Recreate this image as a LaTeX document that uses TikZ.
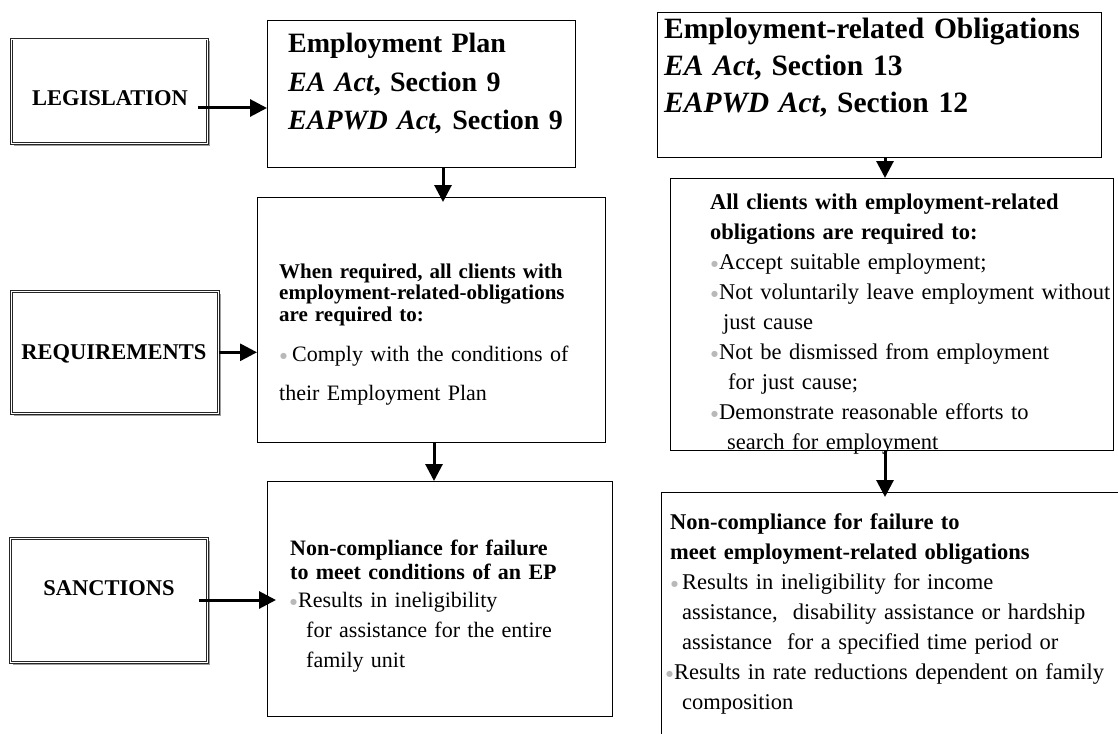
\documentclass[tikz,border=0pt]{standalone}
\usepackage{fontspec}
\setmainfont{Liberation Serif}
\newfontfamily\djv{DejaVu Sans}
\usetikzlibrary{arrows.meta,shadows,calc}
\definecolor{bulgray}{RGB}{185,185,185}
\newcommand{\bul}{\raisebox{2.5pt}{\color{bulgray}\djv\fontsize{8}{8}\selectfont ●}}
\begin{document}
\begin{tikzpicture}[x=1pt,y=-1pt,
  box/.style={draw=black,line width=0.9pt,anchor=north west,inner sep=0pt,fill=white},
  lab/.style={draw=black!85,line width=0.6pt,double=white,double distance=1.2pt,fill=white,
    anchor=north west,inner sep=0pt,
    drop shadow={shadow xshift=2.2pt,shadow yshift=-2.2pt,fill=gray!75,opacity=1}},
  labtxt/.style={font=\fontsize{22.5}{26}\selectfont\bfseries,inner sep=0pt},
  txt/.style={anchor=base west,inner sep=0pt,align=left,text width=#1},
  arr/.style={line width=3pt,-{Triangle[length=17pt,width=17pt]}}
]
\useasboundingbox (0,0) rectangle (1118,733);
\clip (0,0) rectangle (1118,733);
\fill[white] (0,0) rectangle (1118,733);

% ---- left label boxes
\node[lab,minimum width=196pt,minimum height=104pt] (leg) at (11,39) {};
\node[labtxt] (legt) at (110,98) {LEGISLATION};
\node[lab,minimum width=207pt,minimum height=122pt] (reql) at (11,291) {};
\node[labtxt] (reqlt) at (114,354) {REQUIREMENTS};
\node[lab,minimum width=197pt,minimum height=124pt] (sanl) at (10,538) {};
\node[labtxt] (sanlt) at (109,588) {SANCTIONS};

% ---- middle column
\node[box,minimum width=308pt,minimum height=147pt] (ep) at (267,20) {};
\node[txt=300pt,font=\fontsize{28}{38.5}\selectfont\bfseries] (ept) at (288,53)
  {Employment Plan\\\textit{EA Act}, Section 9\\\textit{EAPWD Act,} Section 9};

\node[box,minimum width=348pt,minimum height=245pt] (req) at (257,197) {};
\node[txt=330pt,font=\fontsize{21}{21.5}\selectfont\bfseries] (reqh) at (279,278)
  {When required, all clients with\\employment-related-obligations\\are required to:};
\node[txt=330pt,font=\fontsize{22}{39}\selectfont] (reqb) at (279,361)
  {\hspace*{1pt}\bul\hspace{5pt}Comply with the conditions of\\their Employment Plan};

\node[box,minimum width=345pt,minimum height=235pt] (san) at (267,481) {};
\node[txt=330pt,font=\fontsize{22}{24}\selectfont\bfseries] (sanh) at (290,555)
  {Non-compliance for failure\\to meet conditions of an EP};
\node[txt=330pt,font=\fontsize{22}{30}\selectfont] (sanb) at (290,607)
  {\bul\hspace{1pt}Results in ineligibility\\\hspace*{16pt}for assistance for the entire\\\hspace*{16pt}family unit};

% ---- right column
\node[box,minimum width=444pt,minimum height=145pt] (ero) at (657,12) {};
\node[txt=440pt,font=\fontsize{29.5}{37}\selectfont\bfseries] (erot) at (664,39)
  {Employment-related Obligations\\\textit{EA Act}, Section 13\\\textit{EAPWD Act}, Section 12};

\node[box,minimum width=443pt,minimum height=272pt] (all) at (670,178) {};
\node[txt=420pt,font=\fontsize{22.5}{30}\selectfont\bfseries] (allh) at (710,209)
  {All clients with employment-related\\obligations are required to:};
\node[txt=420pt,font=\fontsize{22.5}{30}\selectfont] (allb) at (710,269)
  {\hspace*{1pt}\bul\hspace{1pt}Accept suitable employment;\\
   \hspace*{1pt}\bul\hspace{1pt}Not voluntarily leave employment without\\
   \hspace*{13pt}just cause\\
   \hspace*{1pt}\bul\hspace{1pt}Not be dismissed from employment\\
   \hspace*{18pt}for just cause;\\
   \hspace*{1pt}\bul\hspace{1pt}Demonstrate reasonable efforts to\\
   \hspace*{17pt}search for employment};

\node[box,minimum width=470pt,minimum height=270pt] (nc) at (661,492) {};
\node[txt=440pt,font=\fontsize{22.5}{30}\selectfont\bfseries] (nch) at (670,529)
  {Non-compliance for failure to\\meet employment-related obligations};
\node[txt=440pt,font=\fontsize{22.5}{30}\selectfont] (ncb) at (670,589)
  {\hspace*{1pt}\bul\hspace{4pt}Results in ineligibility for income\\
   \hspace*{12pt}assistance,\ \ disability assistance or hardship\\
   \hspace*{12pt}assistance\ \ for a specified time period or\\
   \hspace*{-4pt}\bul\hspace{1pt}Results in rate reductions dependent on family\\
   \hspace*{12pt}composition};

% ---- connectors
\coordinate (la) at ([xshift=10pt,yshift=-10pt]legt.east);
\draw[arr] (la) -- (ep.west |- la);
\draw[arr] (reql.east) -- (req.west |- reql.east);
\coordinate (sa) at ([xshift=24pt,yshift=-12pt]sanlt.east);
\draw[arr] (sa) -- ($(san.west |- sa)+(9,0)$);

\coordinate (x1) at (443,0);
\coordinate (x2) at (434,0);
\coordinate (x3) at (885,0);
\draw[arr] (ep.south -| x1) -- ($(req.north -| x1)+(0,5)$);
\draw[arr] (req.south -| x2) -- (san.north -| x2);
\draw[arr] (ero.south -| x3) -- (all.north -| x3);
\draw[arr] (all.south -| x3) -- ($(nc.north -| x3)+(0,5)$);
\end{tikzpicture}
\end{document}
